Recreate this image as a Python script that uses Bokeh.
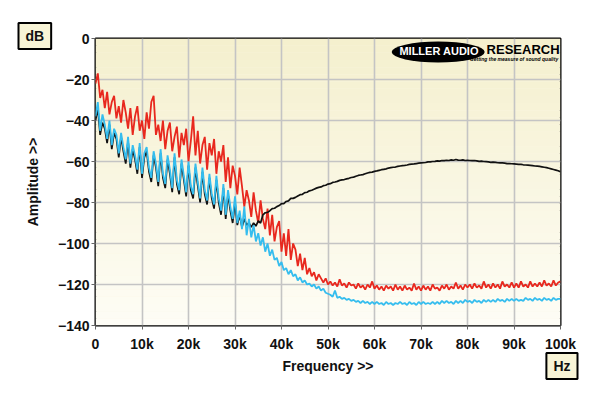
import math
from bokeh.plotting import figure
from bokeh.models import Title, FixedTicker, Range1d
from bokeh.embed import file_html
from bokeh.resources import INLINE
from bokeh.core.properties import value

# ---------------- data (dB), sampled every 0.5 kHz from 0 Hz ----------------
STEP_HZ = 500

red_db = [
    -22, -17, -29, -25, -34, -26, -37, -31, -28, -39,
    -33, -41, -30, -36, -44, -34, -47, -38, -33, -45,
    -40, -49, -36, -44, -31, -28, -47, -42, -50, -40,
    -54, -45, -41, -55, -48, -43, -58, -46, -52, -44,
    -60, -50, -38, -57, -45, -61, -52, -48, -64, -51,
    -57, -49, -66, -55, -60, -52, -70, -58, -73, -62,
    -67, -76, -63, -72, -82, -74, -79, -87, -75, -84,
    -90, -79, -88, -93, -83, -96, -86, -99, -92, -89,
    -104, -95, -106, -93, -108, -100, -103, -111, -105, -113,
    -107, -115, -112, -116, -114, -118, -115, -117, -119, -117,
    -120,
    -118.5, -120.5, -119, -121, -117.5, -120.5, -119.5, -121.5, -119, -120.5,
    -120, -122, -119.5, -121.5, -120.5, -122.5, -120, -121.5, -118.5, -122,
    -120.5, -122.5, -121, -123, -120.5, -122, -121, -123, -120, -122.5,
    -121, -123, -120.5, -122.5, -121.5, -123, -119.5, -122.5, -121, -123,
    -120.5, -122.5, -121, -123, -120, -122, -121.5, -123, -120.5, -122,
    -120, -122.5, -121, -122, -119, -122, -120.5, -122.5, -120, -121.5,
    -120, -122, -119.5, -121.5, -120.5, -122, -118.5, -121.5, -120, -122,
    -119.5, -121.5, -120, -122, -118.5, -121, -120, -121.5, -119, -121.5,
    -119.5, -121.5, -118.5, -121, -120, -121.5, -118.5, -121, -119.5, -121,
    -119, -121, -118, -120.5, -119.5, -121, -118, -120.5, -119, -118.5,
]

cyan_db = [
    -38, -31, -45, -37, -42, -49, -40, -52, -44, -47,
    -56, -46, -53, -59, -48, -61, -52, -57, -64, -51,
    -66, -56, -53, -63, -68, -55, -61, -70, -54, -66,
    -71, -57, -64, -73, -56, -69, -74, -59, -67, -75,
    -60, -72, -76, -61, -70, -78, -63, -74, -79, -66,
    -76, -81, -67, -78, -84, -71, -86, -74, -82, -88,
    -77, -90, -84, -93, -82, -96, -88, -97, -91, -99,
    -95, -101, -97, -104, -100, -106, -103, -108, -107, -111,
    -109, -113, -112, -115, -113, -116, -115, -118, -116.5, -119,
    -118, -120, -119.5, -121, -120, -122, -121, -123, -122, -124,
    -124.5,
    -125, -126, -123, -126.5, -126, -127, -126.5, -127.5, -127, -128,
    -127.5, -128.5, -128, -129, -128, -129, -128.5, -129.5, -128.5, -129.5,
    -128.5, -129.5, -129, -130, -128.5, -129.5, -129, -130, -129, -129.5,
    -128.5, -129.5, -129, -130, -128.5, -129.5, -129, -130, -128.5, -129.5,
    -128.5, -129.5, -129, -129.5, -128.5, -129.5, -128.5, -129.5, -128, -129,
    -128, -129, -128.5, -129.5, -128, -129, -128, -129, -127.5, -128.5,
    -128, -129, -127.5, -128.5, -128, -129, -127.5, -128.5, -127.5, -128.5,
    -127.5, -128.5, -127, -128, -127.5, -128.5, -127, -128, -127, -128,
    -127, -128, -127.5, -128, -126.5, -127.5, -127, -128, -126.5, -127.5,
    -127, -128, -126.5, -127.5, -127, -128, -126.5, -127.5, -127, -127,
]

black_db = [
    -40, -34, -47, -41, -44, -51, -42, -54, -46, -49,
    -58, -48, -55, -61, -50, -63, -54, -59, -66, -53,
    -68, -58, -55, -65, -70, -57, -63, -72, -56, -68,
    -73, -59, -66, -75, -58, -71, -76, -61, -69, -77,
    -62, -74, -78, -63, -72, -80, -65, -76, -81, -68,
    -78, -83, -69, -80, -86, -73, -88, -76, -84, -90,
    -80, -91, -86, -92, -88, -91, -90, -92, -90, -91.5, -89, -90,
    -86, -85, -84.8, -84, -83, -82.8, -82, -81.5, -80.5, -80.6,
    -79.5, -79.2, -78, -78, -77.5, -76.8, -76.2, -76, -75.2, -75,
    -74.3, -74, -73.5, -73, -72.6, -72.4, -71.8, -71.6, -71, -70.8,
    -70.2, -70, -69.7, -69.2, -69, -68.8, -68.5, -68.2, -67.8, -67.6,
    -67.2, -66.8, -66.6, -66.4, -66, -65.6, -65.3, -65.2, -64.8, -64.6,
    -64.3, -64, -63.8, -63.6, -63.2, -63, -62.8, -62.7, -62.4, -62.2,
    -62, -61.9, -61.7, -61.4, -61.3, -61.2, -61, -60.8, -60.7, -60.6,
    -60.5, -60.2, -60.2, -60, -59.9, -59.7, -59.8, -59.5, -59.6, -59.4,
    -59.5, -59.2, -59.4, -59, -59.3, -59.4, -59.2, -59.5, -59.4, -59.5,
    -59.6, -59.5, -59.7, -59.9, -59.8, -60, -60.1, -60.2, -60.4, -60.3,
    -60.4, -60.6, -60.7, -60.7, -60.8, -61, -61, -61.1, -61.2, -61.3,
    -61.4, -61.4, -61.6, -61.7, -61.8, -61.9, -62, -62.2, -62.3, -62.4,
    -62.6, -62.8, -63, -63.3, -63.6, -63.9, -64.2, -64.5, -65,
]

x_ticks = [0, 10000, 20000, 30000, 40000, 50000, 60000, 70000, 80000, 90000, 100000]
x_tick_labels = ["0", "10k", "20k", "30k", "40k", "50k", "60k", "70k", "80k", "90k", "100k"]
y_ticks = [0, -20, -40, -60, -80, -100, -120, -140]

FONT = "Liberation Sans"

red_f = [i * STEP_HZ for i in range(len(red_db))]
cyan_f = [i * STEP_HZ for i in range(len(cyan_db))]
black_f = [i * STEP_HZ for i in range(len(black_db))]

p = figure(width=592, height=388,
           x_range=Range1d(0, 100000), y_range=Range1d(-140, 0),
           output_backend="svg", toolbar_location=None,
           min_border_left=95, min_border_right=32,
           min_border_top=38, min_border_bottom=63)

p.background_fill_color = "#faf7e4"
p.border_fill_color = "white"
p.outline_line_color = "black"
p.outline_line_width = 2

# background gradient (cream at top to nearly white at bottom)
n_strips = 40
top_c = (245, 240, 206)
bot_c = (254, 253, 246)
tops, bots, cols = [], [], []
for i in range(n_strips):
    t = i / (n_strips - 1)
    r = int(top_c[0] + (bot_c[0] - top_c[0]) * t)
    g = int(top_c[1] + (bot_c[1] - top_c[1]) * t)
    b = int(top_c[2] + (bot_c[2] - top_c[2]) * t)
    tops.append(-140 * i / n_strips)
    bots.append(-140 * (i + 1) / n_strips)
    cols.append("#%02x%02x%02x" % (r, g, b))
p.quad(left=0, right=100000, top=tops, bottom=bots, fill_color=cols,
       line_color=None, level="image")

# grid
p.xgrid.ticker = FixedTicker(ticks=x_ticks)
p.ygrid.ticker = FixedTicker(ticks=y_ticks)
p.grid.grid_line_color = "#c4c4c4"
p.grid.grid_line_width = 1.6

# axes
p.xaxis.ticker = FixedTicker(ticks=x_ticks)
p.xaxis.major_label_overrides = {t: l for t, l in zip(x_ticks, x_tick_labels)}
p.yaxis.ticker = FixedTicker(ticks=y_ticks)
for ax in (p.xaxis, p.yaxis):
    ax.axis_line_color = None
    ax.major_tick_line_color = "#666666"
    ax.major_tick_in = 0
    ax.major_tick_out = 4
    ax.minor_tick_line_color = None
    ax.major_label_text_font = FONT
    ax.major_label_text_font_style = "bold"
    ax.major_label_text_font_size = "14px"
    ax.major_label_text_color = "#111111"
    ax.axis_label_text_font = FONT
    ax.axis_label_text_font_style = "bold"
    ax.axis_label_text_font_size = "14px"
    ax.axis_label_text_color = "#111111"
p.yaxis.major_label_standoff = 2
p.xaxis.major_label_standoff = 6
p.yaxis.axis_label = "Amplitude >>"
p.yaxis.axis_label_standoff = 14
p.xaxis.axis_label = "Frequency >>"
p.xaxis.axis_label_standoff = 3

# traces
p.line(red_f, red_db, line_color="#e8281e", line_width=1.8)
p.line(black_f, black_db, line_color="#111111", line_width=1.7)
p.line(cyan_f, cyan_db, line_color="#35bdee", line_width=1.8)

# logo
p.ellipse(x=73700, y=-6.6, width=20000, height=10.2, fill_color="black", line_color=None)
p.text(x=[73900], y=[-6.2], text=["MILLER AUDIO"], text_color="white",
       text_font=value(FONT), text_font_style="bold", text_font_size="11px",
       text_align="center", text_baseline="middle")
p.text(x=[99800], y=[-5.6], text=["RESEARCH"], text_color="black",
       text_font=value(FONT), text_font_style="bold", text_font_size="13px",
       text_align="right", text_baseline="middle")
p.text(x=[99500], y=[-10.2], text=["Getting the measure of sound quality"], text_color="black",
       text_font=value(FONT), text_font_style="bold italic", text_font_size="5px",
       text_align="right", text_baseline="middle")

# unit boxes (titles outside the frame); padding is (horizontal, vertical)
db_title = Title(text="dB", align="left", offset=-77, vertical_align="top", standoff=-31,
                 text_font=FONT, text_font_style="bold", text_font_size="14px",
                 text_color="#111111", background_fill_color="#f8f4d6",
                 border_line_color="black", border_line_width=2, padding=(7, 5))
p.add_layout(db_title, "above")
hz_title = Title(text="Hz", align="right", offset=-17, vertical_align="top", standoff=-47,
                 text_font=FONT, text_font_style="bold", text_font_size="14px",
                 text_color="#111111", background_fill_color="#f8f4d6",
                 border_line_color="black", border_line_width=2, padding=(7, 5))
p.add_layout(hz_title, "below")

open("out.html", "w").write(file_html(p, INLINE))
